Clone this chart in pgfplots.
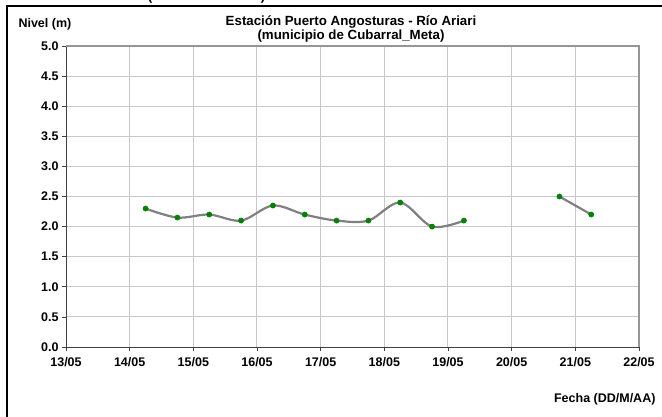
\documentclass[border=0pt]{standalone}
\usepackage{pgfplots}
\pgfplotsset{compat=1.18}
\usepackage{fontspec}
\setmainfont{Liberation Sans}

\definecolor{linegray}{RGB}{128,128,128}
\definecolor{ptgreen}{RGB}{0,128,0}
\definecolor{gridgray}{RGB}{200,200,200}
\definecolor{bordergray}{RGB}{150,150,150}

\begin{document}
\begin{tikzpicture}[x=1pt,y=1pt]
\path[use as bounding box] (0,0) rectangle (662,416);
\clip (0,0) rectangle (662,416);

% frame of the chart area (partly cut off)
\draw[black, line width=2pt] (7,-10) -- (7,410) -- (680,410);

% bits of text above the frame
\node[anchor=base, font=\bfseries\fontsize{13.3}{15}\selectfont] at (150,415.8) {(};
\node[anchor=base, font=\bfseries\fontsize{13.3}{15}\selectfont] at (263,415.8) {)};

\begin{axis}[
    at={(66pt,69pt)}, anchor=origin,
    scale only axis,
    width=573pt, height=301pt,
    xmin=13, xmax=22, ymin=0, ymax=5,
    xtick={13,...,22},
    xticklabels={13/05,14/05,15/05,16/05,17/05,18/05,19/05,20/05,21/05,22/05},
    ytick={0,0.5,...,5},
    yticklabel style={/pgf/number format/.cd, fixed, fixed zerofill, precision=1},
    /pgf/number format/assume math mode=true,
    ticklabel style={font=\bfseries\fontsize{12.5}{14}\selectfont},
    xticklabel style={yshift=-3pt},
    axis lines=left,
    axis line style={-, black!75, line width=1pt},
    tick style={black!75, line width=0.8pt},
    tick align=outside,
    major tick length=4pt,
    grid=major,
    major grid style={gridgray, line width=1pt},
    clip=false,
]
\draw[bordergray, line width=1.6pt] (rel axis cs:0,1) -- (rel axis cs:1,1) -- (rel axis cs:1,0);

\addplot[linegray, line width=2.2pt, smooth, tension=0.55,
    mark=*, mark size=2.6pt, mark options={solid, draw=ptgreen, fill=ptgreen, line width=0.5pt}]
coordinates {
    (14.25,2.30) (14.75,2.15) (15.25,2.20) (15.75,2.10) (16.25,2.35) (16.75,2.20)
    (17.25,2.10) (17.75,2.10) (18.25,2.40) (18.75,2.00) (19.25,2.10)
};
\addplot[linegray, line width=2.2pt,
    mark=*, mark size=2.6pt, mark options={solid, draw=ptgreen, fill=ptgreen, line width=0.5pt}]
coordinates {
    (20.75,2.50) (21.25,2.20)
};
\end{axis}

% labels and title
\node[anchor=west, font=\bfseries\fontsize{12.5}{14}\selectfont] at (15,392) {Nivel (m)};
\node[font=\bfseries\fontsize{13.3}{15}\selectfont] at (351,394) {Estación Puerto Angosturas - Río Ariari};
\node[font=\bfseries\fontsize{13.3}{15}\selectfont] at (351,380) {(municipio de Cubarral\_Meta)};
\node[anchor=east, font=\bfseries\fontsize{12.5}{14}\selectfont] at (659,17) {Fecha (DD/M/AA)};
\end{tikzpicture}
\end{document}
